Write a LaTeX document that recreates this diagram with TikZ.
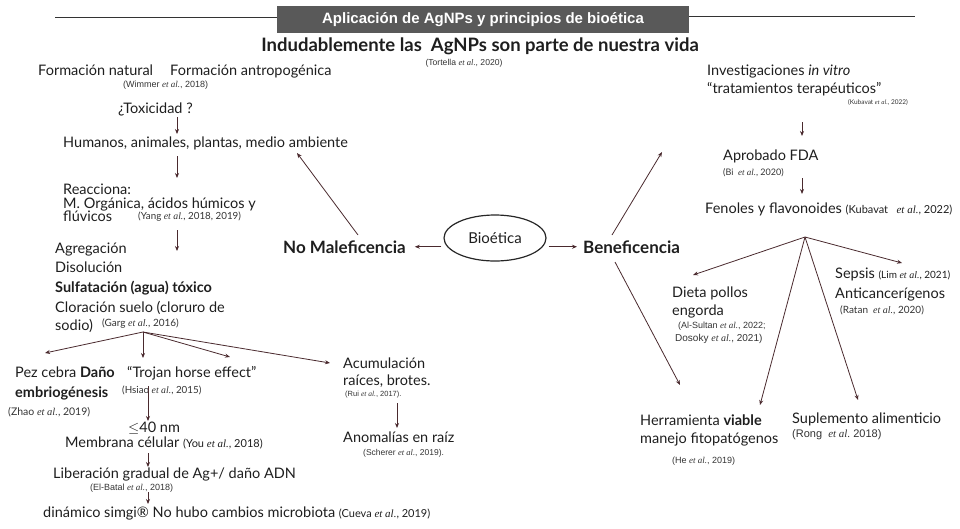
\documentclass[tikz,border=0pt]{standalone}
\usepackage{fontspec}
\setmainfont{Lato}
\newfontfamily\arialf{Liberation Sans}
\newfontfamily\timesf{Liberation Serif}
\usetikzlibrary{arrows.meta,shapes.geometric}
\definecolor{txtc}{HTML}{1E1E1E}
\definecolor{citc}{HTML}{333333}
\definecolor{arrc}{HTML}{4A2A2E}
\definecolor{bannerc}{HTML}{595959}
\newcommand{\ea}{{\timesf\itshape et al.}}
\newcommand{\rfa}[2][8]{{\arialf\fontsize{#1}{#1}\selectfont #2}}
\newcommand{\rfg}[2][9]{{\fontsize{#1}{#1}\selectfont #2}}
\begin{document}
\begin{tikzpicture}[x=1pt,y=-1pt,
  lbl/.style={inner sep=0pt, anchor=base west, text=txtc, font=\fontsize{14.5}{16}\selectfont},
  bld/.style={inner sep=0pt, anchor=base west, text=txtc, font=\fontsize{17}{19}\selectfont\bfseries},
  cit/.style={inner sep=0pt, anchor=base west, text=citc},
  arr/.style={draw=arrc, line width=0.8pt, -{Stealth[length=5pt,width=4pt]}},
]
\path[use as bounding box] (0,0) rectangle (960,528);

% banner
\node[fill=bannerc, text=white, font=\arialf\bfseries\fontsize{15}{17}\selectfont,
      minimum width=412pt, minimum height=27pt, inner sep=0pt] (ban) at (483,19.5)
      {Aplicación de AgNPs y principios de bioética};
\coordinate (banL) at (55,17);
\coordinate (banR) at (915,16);
\draw[line width=1pt, black!80] (banL) -- (banL -| ban.west);
\draw[line width=1pt, black!80] (banR -| ban.east) -- (banR);

% title
\node[inner sep=0pt, anchor=base, text=txtc, font=\fontsize{18.5}{21}\selectfont\bfseries] (title) at (480,51)
      {Indudablemente las \ AgNPs son parte de nuestra vida};
\node[cit, anchor=base] (tort) at (464,65) {\rfa[8.6]{(Tortella \ea, 2020)}};

% left column
\node[lbl] (fnat) at (38,75) {Formación natural};
\node[lbl] (fant) at (170,75) {Formación antropogénica};
\node[cit] (wim) at (123,87) {\rfa[9]{(Wimmer \ea, 2018)}};
\node[lbl] (tox) at (118,113) {¿Toxicidad ?};
\node[lbl] (hum) at (63,147) {Humanos, animales, plantas, medio ambiente};
\node[lbl] (reac) at (63,194) {Reacciona:};
\node[lbl] (morg) at (63,208) {M. Orgánica, ácidos húmicos y};
\node[lbl] (fluv) at (63,221) {flúvicos};
\node[cit] (yang) at (138,219) {\rfg[9.8]{(Yang \ea, 2018, 2019)}};
\node[lbl] (agr) at (55,253) {Agregación};
\node[lbl] (dis) at (55,272) {Disolución};
\node[lbl, font=\fontsize{14.5}{16}\selectfont\bfseries] (sulf) at (55,292) {Sulfatación (agua) tóxico};
\node[lbl] (clor) at (55,312) {Cloración suelo (cloruro de};
\node[lbl] (sod) at (55,330) {sodio)};
\node[cit] (garg) at (102,326) {\rfg[10]{(Garg \ea, 2016)}};

\node[lbl] (pez) at (15,377) {Pez cebra \textbf{Daño}};
\node[lbl] (emb) at (15,397) {\textbf{embriogénesis}};
\node[cit] (zhao) at (8,415) {\rfg[10.5]{(Zhao \ea, 2019)}};
\node[lbl] (troj) at (127,377) {“Trojan horse effect”};
\node[cit] (hsiao) at (122,393) {\rfg[9.8]{(Hsiao \ea, 2015)}};
\node[lbl] (nm) at (128,432) {$\leq$40 nm};
\node[lbl] (memb) at (65,447) {Membrana célular \rfg[11]{(You \ea, 2018)}};
\node[lbl] (lib) at (53,478) {Liberación gradual de Ag+/ daño ADN};
\node[cit] (elb) at (90,490) {\rfa[9]{(El-Batal \ea, 2018)}};
\node[lbl] (din) at (43,517) {dinámico simgi® No hubo cambios microbiota \rfg[11]{(Cueva \ea, 2019)}};

\node[lbl] (acum) at (343,368) {Acumulación};
\node[lbl] (raic) at (343,385) {raíces, brotes.};
\node[cit] (rui) at (345,396) {\rfa[7.5]{(Rui \ea, 2017).}};
\node[lbl] (anom) at (343,442) {Anomalías en raíz};
\node[cit] (sche) at (363,455) {\rfa[8.5]{(Scherer \ea, 2019).}};

% centre
\node[bld] (nomal) at (283,253) {No Maleficencia};
\node[draw=black!85, line width=1.2pt, ellipse, minimum width=102pt, minimum height=46pt,
      inner sep=0pt, text=txtc, font=\fontsize{15}{17}\selectfont] (bio) at (495,238) {Bioética};
\node[bld] (benef) at (583,253) {Beneficencia};

% right column
\node[lbl] (inv) at (707,75) {Investigaciones \textit{in vitro}};
\node[lbl] (trat) at (707,93) {“tratamientos terapéuticos”};
\node[cit] (kub1) at (848,104) {\rfg[6.5]{(Kubavat \ea, 2022)}};
\node[lbl] (fda) at (723,160) {Aprobado FDA};
\node[cit] (bi) at (723,175) {\rfg[9]{(Bi \ \ea, 2020)}};
\node[lbl] (fen) at (705,213) {Fenoles y flavonoides \rfg[11]{(Kubavat \ \ \ea, 2022)}};
\node[lbl] (diet) at (672,297) {Dieta pollos};
\node[lbl] (engo) at (672,315) {engorda};
\node[cit] (alsu) at (678,328) {\rfa[9]{(Al-Sultan \ea, 2022;}};
\node[cit] (doso) at (675,341) {\rfa[10]{Dosoky \ea, 2021)}};
\node[lbl] (seps) at (835,278) {Sepsis \rfg[10]{(Lim \ea, 2021)}};
\node[lbl] (anti) at (835,298) {Anticancerígenos};
\node[cit] (ratan) at (840,313) {\rfg[10]{(Ratan \ \ea, 2020)}};
\node[lbl] (herr) at (640,425) {Herramienta \textbf{viable}};
\node[lbl] (mane) at (640,443) {manejo fitopatógenos};
\node[cit] (he) at (672,463) {\rfa[9]{(He \ea, 2019)}};
\node[lbl] (supl) at (792,423) {Suplemento alimenticio};
\node[cit] (rong) at (792,437) {\rfa[11]{(Rong \ \ea\ 2018)}};

% connector coordinates
\coordinate (toxA) at (177,117);  \coordinate (toxB) at (177,134);
\coordinate (humA) at (177,156);  \coordinate (humB) at (177,178);
\coordinate (fluA) at (177,230);  \coordinate (fluB) at (177,251);
\coordinate (fanL) at (143,332);
\coordinate (fL1) at (45,353);    \coordinate (fL2) at (143,358);
\coordinate (fL3) at (230,357);   \coordinate (fL4) at (330,363);
\coordinate (troA) at (148,386);  \coordinate (troB) at (148,421);
\coordinate (memA) at (148,453);  \coordinate (memB) at (148,467);
\coordinate (libA) at (148,492);  \coordinate (libB) at (148,504);
\coordinate (acuA) at (397,403);  \coordinate (acuB) at (397,428);
\coordinate (nmA) at (358,235);   \coordinate (nmB) at (297,153);
\coordinate (bnA) at (612,235);   \coordinate (bnB) at (662,152);
\coordinate (bdA) at (615,262);   \coordinate (bdB) at (680,385);
\coordinate (trA) at (802,122);   \coordinate (trB) at (802,136);
\coordinate (fdA) at (802,178);   \coordinate (fdB) at (802,194);
\coordinate (fanR) at (805,237);
\coordinate (fR1) at (693,275);   \coordinate (fR2) at (902,263);
\coordinate (fR3) at (760,405);   \coordinate (fR4) at (858,400);

% connectors
\draw[arr] (toxA) -- (toxB);
\draw[arr] (humA) -- (humB);
\draw[arr] (fluA) -- (fluB);
\foreach \e in {fL1,fL2,fL3,fL4} \draw[arr] (fanL) -- (\e);
\draw[arr] (troA) -- (troB);
\draw[arr] (memA) -- (memB);
\draw[arr] (libA) -- (libB);
\draw[arr] (acuA) -- (acuB);
\draw[arr] (nmA) -- (nmB);
\draw[arr] ([xshift=-2pt]bio.west |- nomal.east) -- ([xshift=9pt]nomal.east);
\draw[arr] ([xshift=2pt]bio.east |- benef.west) -- ([xshift=-6pt]benef.west);
\draw[arr] (bnA) -- (bnB);
\draw[arr] (bdA) -- (bdB);
\draw[arr] (trA) -- (trB);
\draw[arr] (fdA) -- (fdB);
\foreach \e in {fR1,fR2,fR3,fR4} \draw[arr] (fanR) -- (\e);
\end{tikzpicture}
\end{document}
